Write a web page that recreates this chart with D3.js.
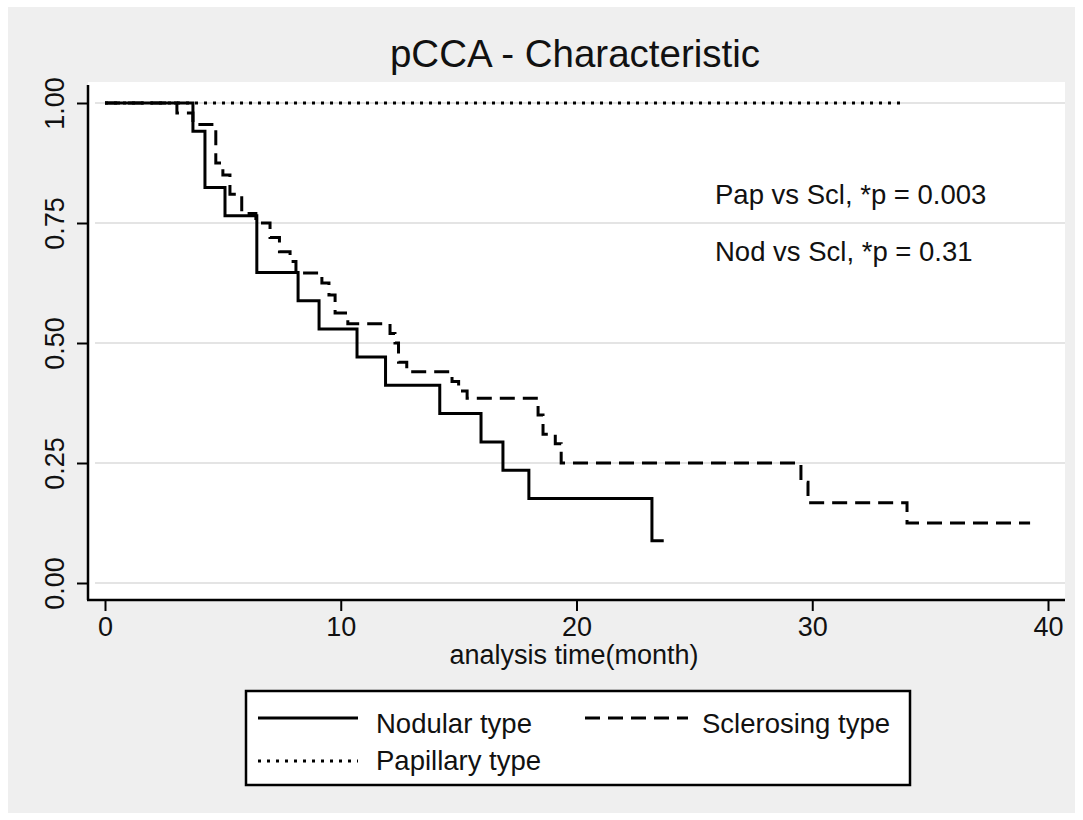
<!DOCTYPE html>
<html>
<head>
<meta charset="utf-8">
<script src="https://cdn.jsdelivr.net/npm/d3@7"></script>
<style>
  html, body { margin: 0; padding: 0; background: #fff; }
  text { font-family: "Liberation Sans", Arial, sans-serif; fill: #111; }
</style>
</head>
<body>
<div id="chart"></div>
<script>
// survival estimates: [months, survival]
var nodular = [[0, 1], [3.73, 0.941], [4.24, 0.824], [5.09, 0.765], [6.44, 0.647],
  [8.19, 0.588], [9.08, 0.529], [10.69, 0.471], [11.9, 0.412], [14.2, 0.353],
  [15.95, 0.294], [16.88, 0.235], [17.98, 0.176], [23.2, 0.088], [23.7, 0.088]];

var sclerosing = [[0, 1], [3.05, 0.979], [3.73, 0.955], [4.7, 0.875], [5.0, 0.85],
  [5.3, 0.81], [5.8, 0.77], [6.4, 0.75], [7.0, 0.72], [7.4, 0.69], [7.85, 0.67],
  [8.1, 0.646], [9.2, 0.625], [9.5, 0.6], [9.76, 0.5625], [10.3, 0.54],
  [12.09, 0.52], [12.3, 0.5], [12.45, 0.46], [12.8, 0.44], [14.72, 0.42],
  [15.0, 0.40], [15.36, 0.385], [18.37, 0.35], [18.58, 0.31], [19.1, 0.29],
  [19.35, 0.25], [29.52, 0.21], [29.82, 0.167], [34.02, 0.125], [39.24, 0.125]];

var papillary = [[0, 1], [33.9, 1]];

var xTicks = [0, 10, 20, 30, 40];
var yTicks = [0, 0.25, 0.5, 0.75, 1];
var pValues = ["Pap vs Scl, *p = 0.003", "Nod vs Scl, *p = 0.31"];
var legendItems = [
  { label: "Nodular type", dash: null },
  { label: "Sclerosing type", dash: "15,8" },
  { label: "Papillary type", dash: "3,6" }
];

var W = 1083, H = 820;
var plot = { left: 88, right: 1065, top: 82, bottom: 600 };

var svg = d3.select("#chart").append("svg")
  .attr("width", W)
  .attr("height", H);

// grey graph region
svg.append("rect")
  .attr("x", 8).attr("y", 7)
  .attr("width", W - 16).attr("height", H - 14)
  .style("fill", "#efefef");

// white plot region
svg.append("rect")
  .attr("x", plot.left).attr("y", plot.top)
  .attr("width", plot.right - plot.left).attr("height", plot.bottom - plot.top)
  .style("fill", "#fff");

var x = d3.scaleLinear().domain([0, 40]).range([105, 1048]);
var y = d3.scaleLinear().domain([0, 1]).range([583, 103]);

// grid lines
svg.append("g").selectAll("line")
  .data(yTicks)
  .enter().append("line")
  .attr("x1", 95).attr("x2", plot.right)
  .attr("y1", function (d) { return y(d); })
  .attr("y2", function (d) { return y(d); })
  .style("stroke", "#e4e4e4")
  .style("stroke-width", 2);

// title
svg.append("text")
  .attr("x", 575).attr("y", 67)
  .style("font-size", "38.5px")
  .style("text-anchor", "middle")
  .text("pCCA - Characteristic");

// x axis
var xAxis = svg.append("g")
  .attr("transform", "translate(0," + plot.bottom + ")")
  .call(d3.axisBottom(x).tickValues(xTicks).tickSize(11).tickPadding(6));
xAxis.select(".domain").remove();
xAxis.selectAll(".tick line").style("stroke", "#000").style("stroke-width", 2);
xAxis.selectAll(".tick text")
  .style("font-size", "27px")
  .style("font-family", "'Liberation Sans', Arial, sans-serif")
  .style("fill", "#111");

svg.append("line")
  .attr("x1", plot.left - 1).attr("x2", plot.right)
  .attr("y1", plot.bottom).attr("y2", plot.bottom)
  .style("stroke", "#000").style("stroke-width", 2.5);

svg.append("text")
  .attr("x", 574).attr("y", 664)
  .style("font-size", "27px")
  .style("text-anchor", "middle")
  .text("analysis time(month)");

// y axis
var yAxis = svg.append("g")
  .attr("transform", "translate(" + plot.left + ",0)")
  .call(d3.axisLeft(y).tickValues(yTicks).tickSize(11).tickFormat(d3.format(".2f")));
yAxis.select(".domain").remove();
yAxis.selectAll(".tick line").style("stroke", "#000").style("stroke-width", 2);
yAxis.selectAll(".tick text")
  .attr("x", 0).attr("dy", null)
  .attr("transform", "translate(-24,0) rotate(-90)")
  .style("text-anchor", "middle")
  .style("font-size", "27px")
  .style("font-family", "'Liberation Sans', Arial, sans-serif")
  .style("fill", "#111");

svg.append("line")
  .attr("x1", plot.left).attr("x2", plot.left)
  .attr("y1", 85).attr("y2", plot.bottom)
  .style("stroke", "#000").style("stroke-width", 2.5);

// survival curves
var line = d3.line()
  .x(function (d) { return x(d[0]); })
  .y(function (d) { return y(d[1]); })
  .curve(d3.curveStepAfter);

var curves = [
  { data: papillary, dash: "3,6" },
  { data: sclerosing, dash: "15,8" },
  { data: nodular, dash: null }
];

svg.append("g").selectAll("path")
  .data(curves)
  .enter().append("path")
  .attr("d", function (d) { return line(d.data); })
  .style("fill", "none")
  .style("stroke", "#000")
  .style("stroke-width", 3)
  .style("stroke-dasharray", function (d) { return d.dash; });

// p value notes
svg.append("g").selectAll("text")
  .data(pValues)
  .enter().append("text")
  .attr("x", 715)
  .attr("y", function (d, i) { return 204 + i * 57; })
  .style("font-size", "27.5px")
  .text(function (d) { return d; });

// legend
var legend = svg.append("g");
legend.append("rect")
  .attr("x", 246).attr("y", 691)
  .attr("width", 664).attr("height", 94)
  .style("fill", "#fff")
  .style("stroke", "#000")
  .style("stroke-width", 2.5);

// line position and text baseline per legend key
var slots = [[258, 718, 733], [585, 718, 733], [258, 761, 770]];

var item = legend.selectAll("g.item")
  .data(legendItems)
  .enter().append("g")
  .attr("class", "item")
  .attr("transform", function (d, i) { return "translate(" + slots[i][0] + "," + slots[i][1] + ")"; });

item.append("line")
  .attr("x1", 0)
  .attr("x2", function (d, i) { return i === 1 ? 103 : 100; })
  .style("stroke", "#000")
  .style("stroke-width", 3)
  .style("stroke-dasharray", function (d) { return d.dash; });

item.append("text")
  .attr("x", function (d, i) { return i === 1 ? 117 : 118; })
  .attr("y", function (d, i) { return slots[i][2] - slots[i][1]; })
  .style("font-size", "27.5px")
  .text(function (d) { return d.label; });
</script>
</body>
</html>
